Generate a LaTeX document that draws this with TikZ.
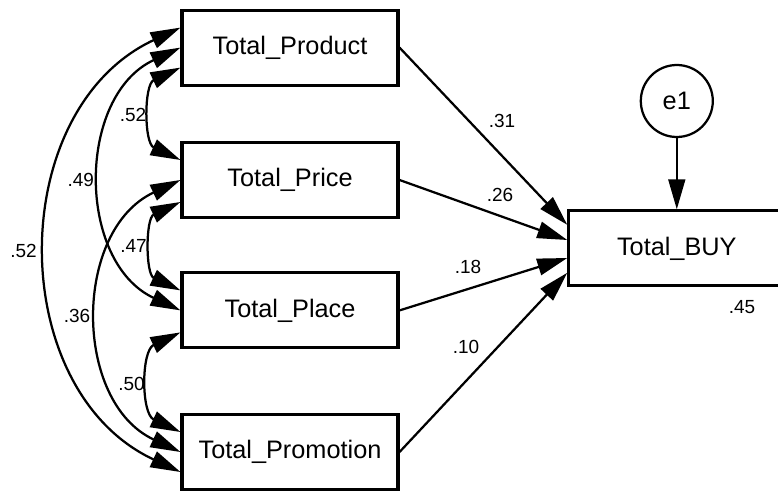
\documentclass[tikz,border=0pt]{standalone}
\usepackage{fontspec}
\setmainfont{Liberation Sans}
\usetikzlibrary{arrows.meta}
\tikzstyle{box} = [
    rectangle, draw, text centered,
    minimum width=5.4cm,
    minimum height=1.875cm,
    line width=2.2pt,
    font=\fontsize{18}{21}\selectfont,
]
\tikzstyle{err} = [
    circle, draw,
    minimum size=1.8cm,
    line width=1.6pt,
    font=\fontsize{18}{21}\selectfont,
]
\tikzstyle{coef} = [inner sep=0pt, font=\fontsize{13.5}{15}\selectfont]
\tikzstyle{arrow} = [-{Triangle[length=7.5mm,width=4.2mm]}, line width=1.6pt]
\tikzstyle{cov} = [
    {Triangle[length=7.5mm,width=4.2mm]}-{Triangle[length=7.5mm,width=4.2mm]},
    line width=1.6pt, bend right=65, looseness=1.12,
]
\begin{document}
\begin{tikzpicture}
    \useasboundingbox (0,0) rectangle (19.45,-12.275);

    % boxes
    \foreach \n/\y/\t in {prod/-1.19/Product, price/-4.5/Price,
                          place/-7.76/Place, promo/-11.3/Promotion}
        \node (\n) at (7.25, \y) [box] {Total\_\t};

    \node (buy) at (16.92, -6.21) [box] {Total\_BUY};
    \node (e1) at (16.92, -2.525) [err] {e1};

    % arrows
    \draw [arrow] (prod.east) to ([yshift=5.9mm]buy.west);
    \draw [arrow] (price.east) to ([yshift=2.1mm]buy.west);
    \draw [arrow] (place.east) to ([yshift=-2.4mm]buy.west);
    \draw [arrow] (promo.east) to ([yshift=-6.1mm]buy.west);
    \draw [arrow] (e1.south) to (buy.north);

    \draw [cov] ([yshift=-5mm]prod.west) to ([yshift=5mm]price.west);
    \draw [cov] (prod.west) to (place.west);
    \draw [cov] ([yshift=5mm]prod.west) to ([yshift=-5mm]promo.west);
    \draw [cov] ([yshift=-5.5mm]price.west) to ([yshift=5mm]place.west);
    \draw [cov] (price.west) to (promo.west);
    \draw [cov] ([yshift=-5.5mm]place.west) to ([yshift=5mm]promo.west);

    % coefficients
    \foreach \n/\x/\y/\v in {bprod/12.55/-3.025/.31, bprice/12.5/-4.875/.26,
                             bplace/11.7/-6.675/.18, bpromo/11.65/-8.675/.10,
                             rsq/18.55/-7.675/.45,
                             c12/3.325/-2.875/.52, c13/2.02/-4.51/.49,
                             c14/0.59/-6.27/.52, c23/3.34/-6.15/.47,
                             c24/1.925/-7.91/.36, c34/3.29/-9.59/.50}
        \node (\n) at (\x, \y) [coef] {\v};

\end{tikzpicture}
\end{document}
